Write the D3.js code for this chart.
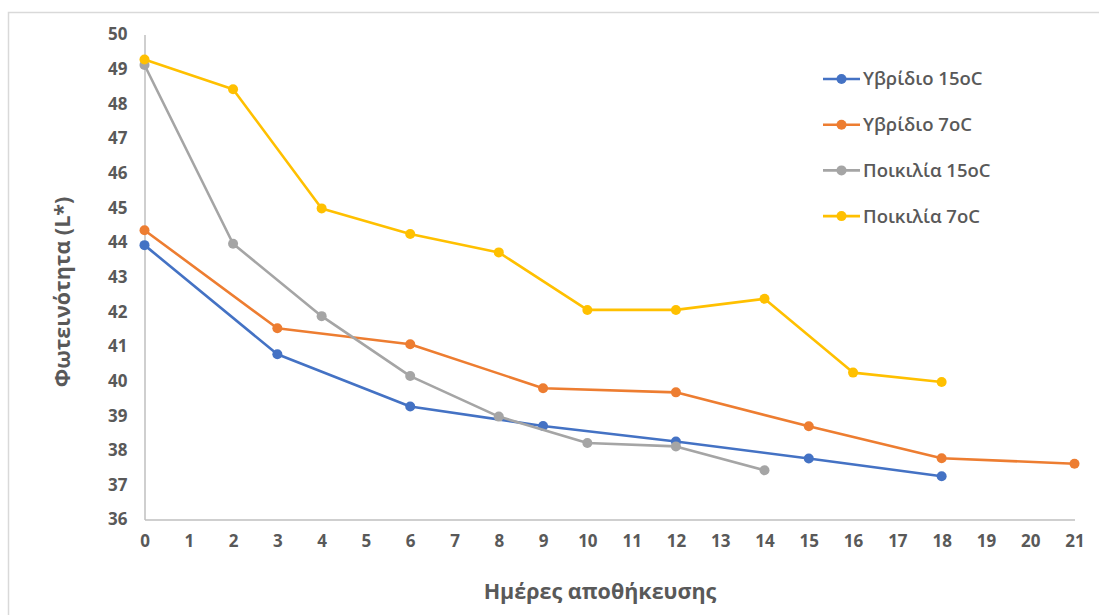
<!DOCTYPE html>
<html>
<head>
<meta charset="utf-8">
<script src="https://cdn.jsdelivr.net/npm/d3@7"></script>
<style>
  html, body { margin: 0; padding: 0; background: #fff; }
  svg { display: block; }
  text { font-family: "Open Sans", "Noto Sans", sans-serif; fill: #595959; }
</style>
</head>
<body>
<svg id="chart" width="1099" height="615"></svg>
<script>
// Storage day ticks on the x axis
const dayTicks = d3.range(0, 22);
// Lightness tick values on the y axis
const lightTicks = d3.range(36, 51);

// Series: storage days and measured lightness (L*)
const seriesNames = ["Υβρίδιο 15oC", "Υβρίδιο 7oC", "Ποικιλία 15oC", "Ποικιλία 7oC"];
const seriesColors = ["#4472c4", "#ed7d31", "#a5a5a5", "#ffc000"];

const hybrid15Days = [0, 3, 6, 9, 12, 15, 18];
const hybrid15Values = [43.92, 40.77, 39.26, 38.70, 38.25, 37.76, 37.25];

const hybrid7Days = [0, 3, 6, 9, 12, 15, 18, 21];
const hybrid7Values = [44.35, 41.52, 41.06, 39.79, 39.67, 38.69, 37.77, 37.61];

const variety15Days = [0, 2, 4, 6, 8, 10, 12, 14];
const variety15Values = [49.12, 43.96, 41.87, 40.14, 38.97, 38.21, 38.11, 37.42];

const variety7Days = [0, 2, 4, 6, 8, 10, 12, 14, 16, 18];
const variety7Values = [49.28, 48.42, 44.98, 44.24, 43.71, 42.05, 42.05, 42.37, 40.24, 39.97];

const seriesDays = [hybrid15Days, hybrid7Days, variety15Days, variety7Days];
const seriesValues = [hybrid15Values, hybrid7Values, variety15Values, variety7Values];

const series = seriesNames.map((name, i) => ({
  name,
  color: seriesColors[i],
  points: seriesDays[i].map((d, j) => ({ day: d, value: seriesValues[i][j] }))
}));

const svg = d3.select("#chart");

// Outer frame of the chart object
svg.append("rect")
  .attr("x", 8.5).attr("y", 12.5)
  .attr("width", 1200).attr("height", 700)
  .attr("fill", "none").attr("stroke", "#d9d9d9").attr("stroke-width", 1.5);

const x = d3.scaleLinear().domain([0, 21]).range([144.5, 1074.5]);
const y = d3.scaleLinear().domain([36, 50]).range([519.5, 34.5]);

// Y axis
const yAxis = svg.append("g")
  .attr("transform", `translate(${x(0)},0)`)
  .call(d3.axisLeft(y).tickValues(lightTicks).tickSize(0).tickPadding(17).tickFormat(d3.format("d")));
yAxis.select(".domain").attr("stroke", "#bfbfbf").attr("stroke-width", 1.5);
yAxis.selectAll("text")
  .style("font-size", "17px").style("font-weight", "700").attr("fill", "#595959");

// X axis
const xAxis = svg.append("g")
  .attr("transform", `translate(0,${y(36)})`)
  .call(d3.axisBottom(x).tickValues(dayTicks).tickSize(0).tickPadding(15).tickFormat(d3.format("d")));
xAxis.select(".domain").attr("stroke", "#bfbfbf").attr("stroke-width", 1.5);
xAxis.selectAll("text")
  .style("font-size", "17px").style("font-weight", "700").attr("fill", "#595959");

// Axis titles
svg.append("text")
  .attr("x", 600).attr("y", 599)
  .attr("text-anchor", "middle")
  .style("font-size", "21.5px").style("font-weight", "700")
  .text("Ημέρες αποθήκευσης");

svg.append("text")
  .attr("transform", "translate(70,292) rotate(-90)")
  .attr("text-anchor", "middle")
  .style("font-size", "21.5px").style("font-weight", "700")
  .text("Φωτεινότητα (L*)");

// Lines and markers
const line = d3.line().x(d => x(d.day)).y(d => y(d.value));

const sg = svg.append("g").selectAll("g").data(series).join("g");
sg.append("path")
  .attr("d", s => line(s.points))
  .attr("fill", "none")
  .attr("stroke", s => s.color)
  .attr("stroke-width", 2.6)
  .attr("stroke-linejoin", "round");
sg.each(function (s) {
  d3.select(this).selectAll("circle").data(s.points).join("circle")
    .attr("cx", d => x(d.day))
    .attr("cy", d => y(d.value))
    .attr("r", 5)
    .attr("fill", s.color);
});

// Legend
const legend = svg.append("g").attr("transform", "translate(823,79)");
const items = legend.selectAll("g").data(series).join("g")
  .attr("transform", (d, i) => `translate(0,${i * 45.7})`);
items.append("line")
  .attr("x1", 0).attr("x2", 37).attr("y1", 0).attr("y2", 0)
  .attr("stroke", d => d.color).attr("stroke-width", 2.6);
items.append("circle")
  .attr("cx", 18.5).attr("cy", 0).attr("r", 5).attr("fill", d => d.color);
items.append("text")
  .attr("x", 40).attr("y", 0).attr("dy", "0.35em")
  .style("font-size", "18.5px").style("font-weight", "600")
  .text(d => d.name);
</script>
</body>
</html>
